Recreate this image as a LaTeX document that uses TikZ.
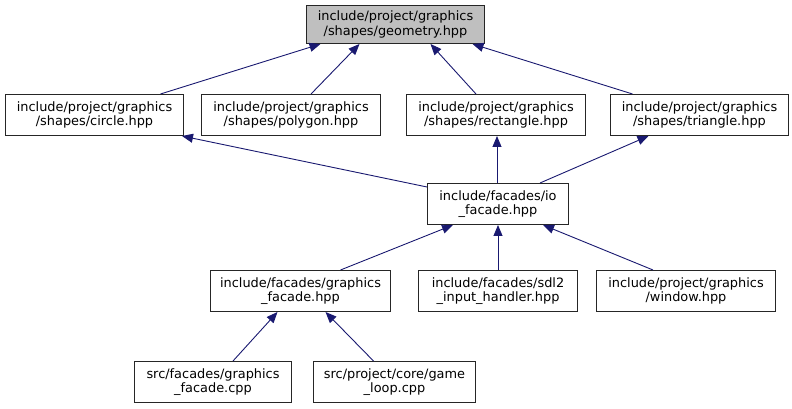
\documentclass[tikz,border=0pt]{standalone}
\usepackage{fontspec}
\setmainfont{DejaVu Sans}
\usepackage{xcolor}
\usetikzlibrary{arrows.meta}
\definecolor{edgeblue}{HTML}{191970}
\definecolor{ink}{HTML}{000000}
\definecolor{grayA}{HTML}{BFBFBF}
\tikzset{
  file/.style={draw=ink!85, line width=1pt, fill=white, text=ink, align=center,
    font=\fontsize{12.9}{14.5}\selectfont, inner sep=2pt, anchor=north west, minimum height=41pt},
  rootfile/.style={file, fill=grayA, minimum height=38pt},
  dep/.style={draw=edgeblue, line width=0.9pt, -{Triangle[length=11pt,width=9pt]}}
}
\begin{document}
\begin{tikzpicture}[x=1pt,y=1pt]
\useasboundingbox (0,0) rectangle (792,409);

\node[rootfile, minimum width=178pt] (geo) at (306,404) {include/project/graphics\\/shapes/geometry.hpp};

\node[file, minimum width=178pt] (circ) at (5,315) {include/project/graphics\\/shapes/circle.hpp};
\node[file, minimum width=179pt] (poly) at (201,315) {include/project/graphics\\/shapes/polygon.hpp};
\node[file, minimum width=179pt] (rect) at (406,315) {include/project/graphics\\/shapes/rectangle.hpp};
\node[file, minimum width=178pt] (tri) at (610,315) {include/project/graphics\\/shapes/triangle.hpp};

\node[file, minimum width=141pt] (io) at (427,226) {include/facades/io\\\_facade.hpp};

\node[file, minimum width=180pt] (gfx) at (210,139) {include/facades/graphics\\\_facade.hpp};
\node[file, minimum width=159pt] (sdl) at (418,139) {include/facades/sdl2\\\_input\_handler.hpp};
\node[file, minimum width=179pt] (win) at (596,139) {include/project/graphics\\/window.hpp};

\node[file, minimum width=157pt] (gcpp) at (134,48) {src/facades/graphics\\\_facade.cpp};
\node[file, minimum width=162pt] (loop) at (313,48) {src/project/core/game\\\_loop.cpp};

% includes point up to the header they pull in
\draw[dep] ([xshift=66]circ.north) -- ([xshift=-75]geo.south);
\draw[dep] ([xshift=20]poly.north) -- ([xshift=-36]geo.south);
\draw[dep] ([xshift=-20]rect.north) -- ([xshift=35]geo.south);
\draw[dep] ([xshift=-67]tri.north) -- ([xshift=77]geo.south);

\draw[dep] ([yshift=-4]io.north west) -- ([xshift=-2]circ.south east);
\draw[dep] ([xshift=-1]io.north) -- ([xshift=-1]io.north |- rect.south);
\draw[dep] ([xshift=42]io.north) -- ([xshift=-51]tri.south);

\draw[dep] ([xshift=40]gfx.north) -- ([xshift=-45]io.south);
\draw[dep] (sdl.north) -- (sdl.north |- io.south);
\draw[dep] ([xshift=-33]win.north) -- ([xshift=45]io.south);

\draw[dep] ([xshift=20]gcpp.north) -- ([xshift=-23]gfx.south);
\draw[dep] ([xshift=-21]loop.north) -- ([xshift=25]gfx.south);

\end{tikzpicture}
\end{document}
